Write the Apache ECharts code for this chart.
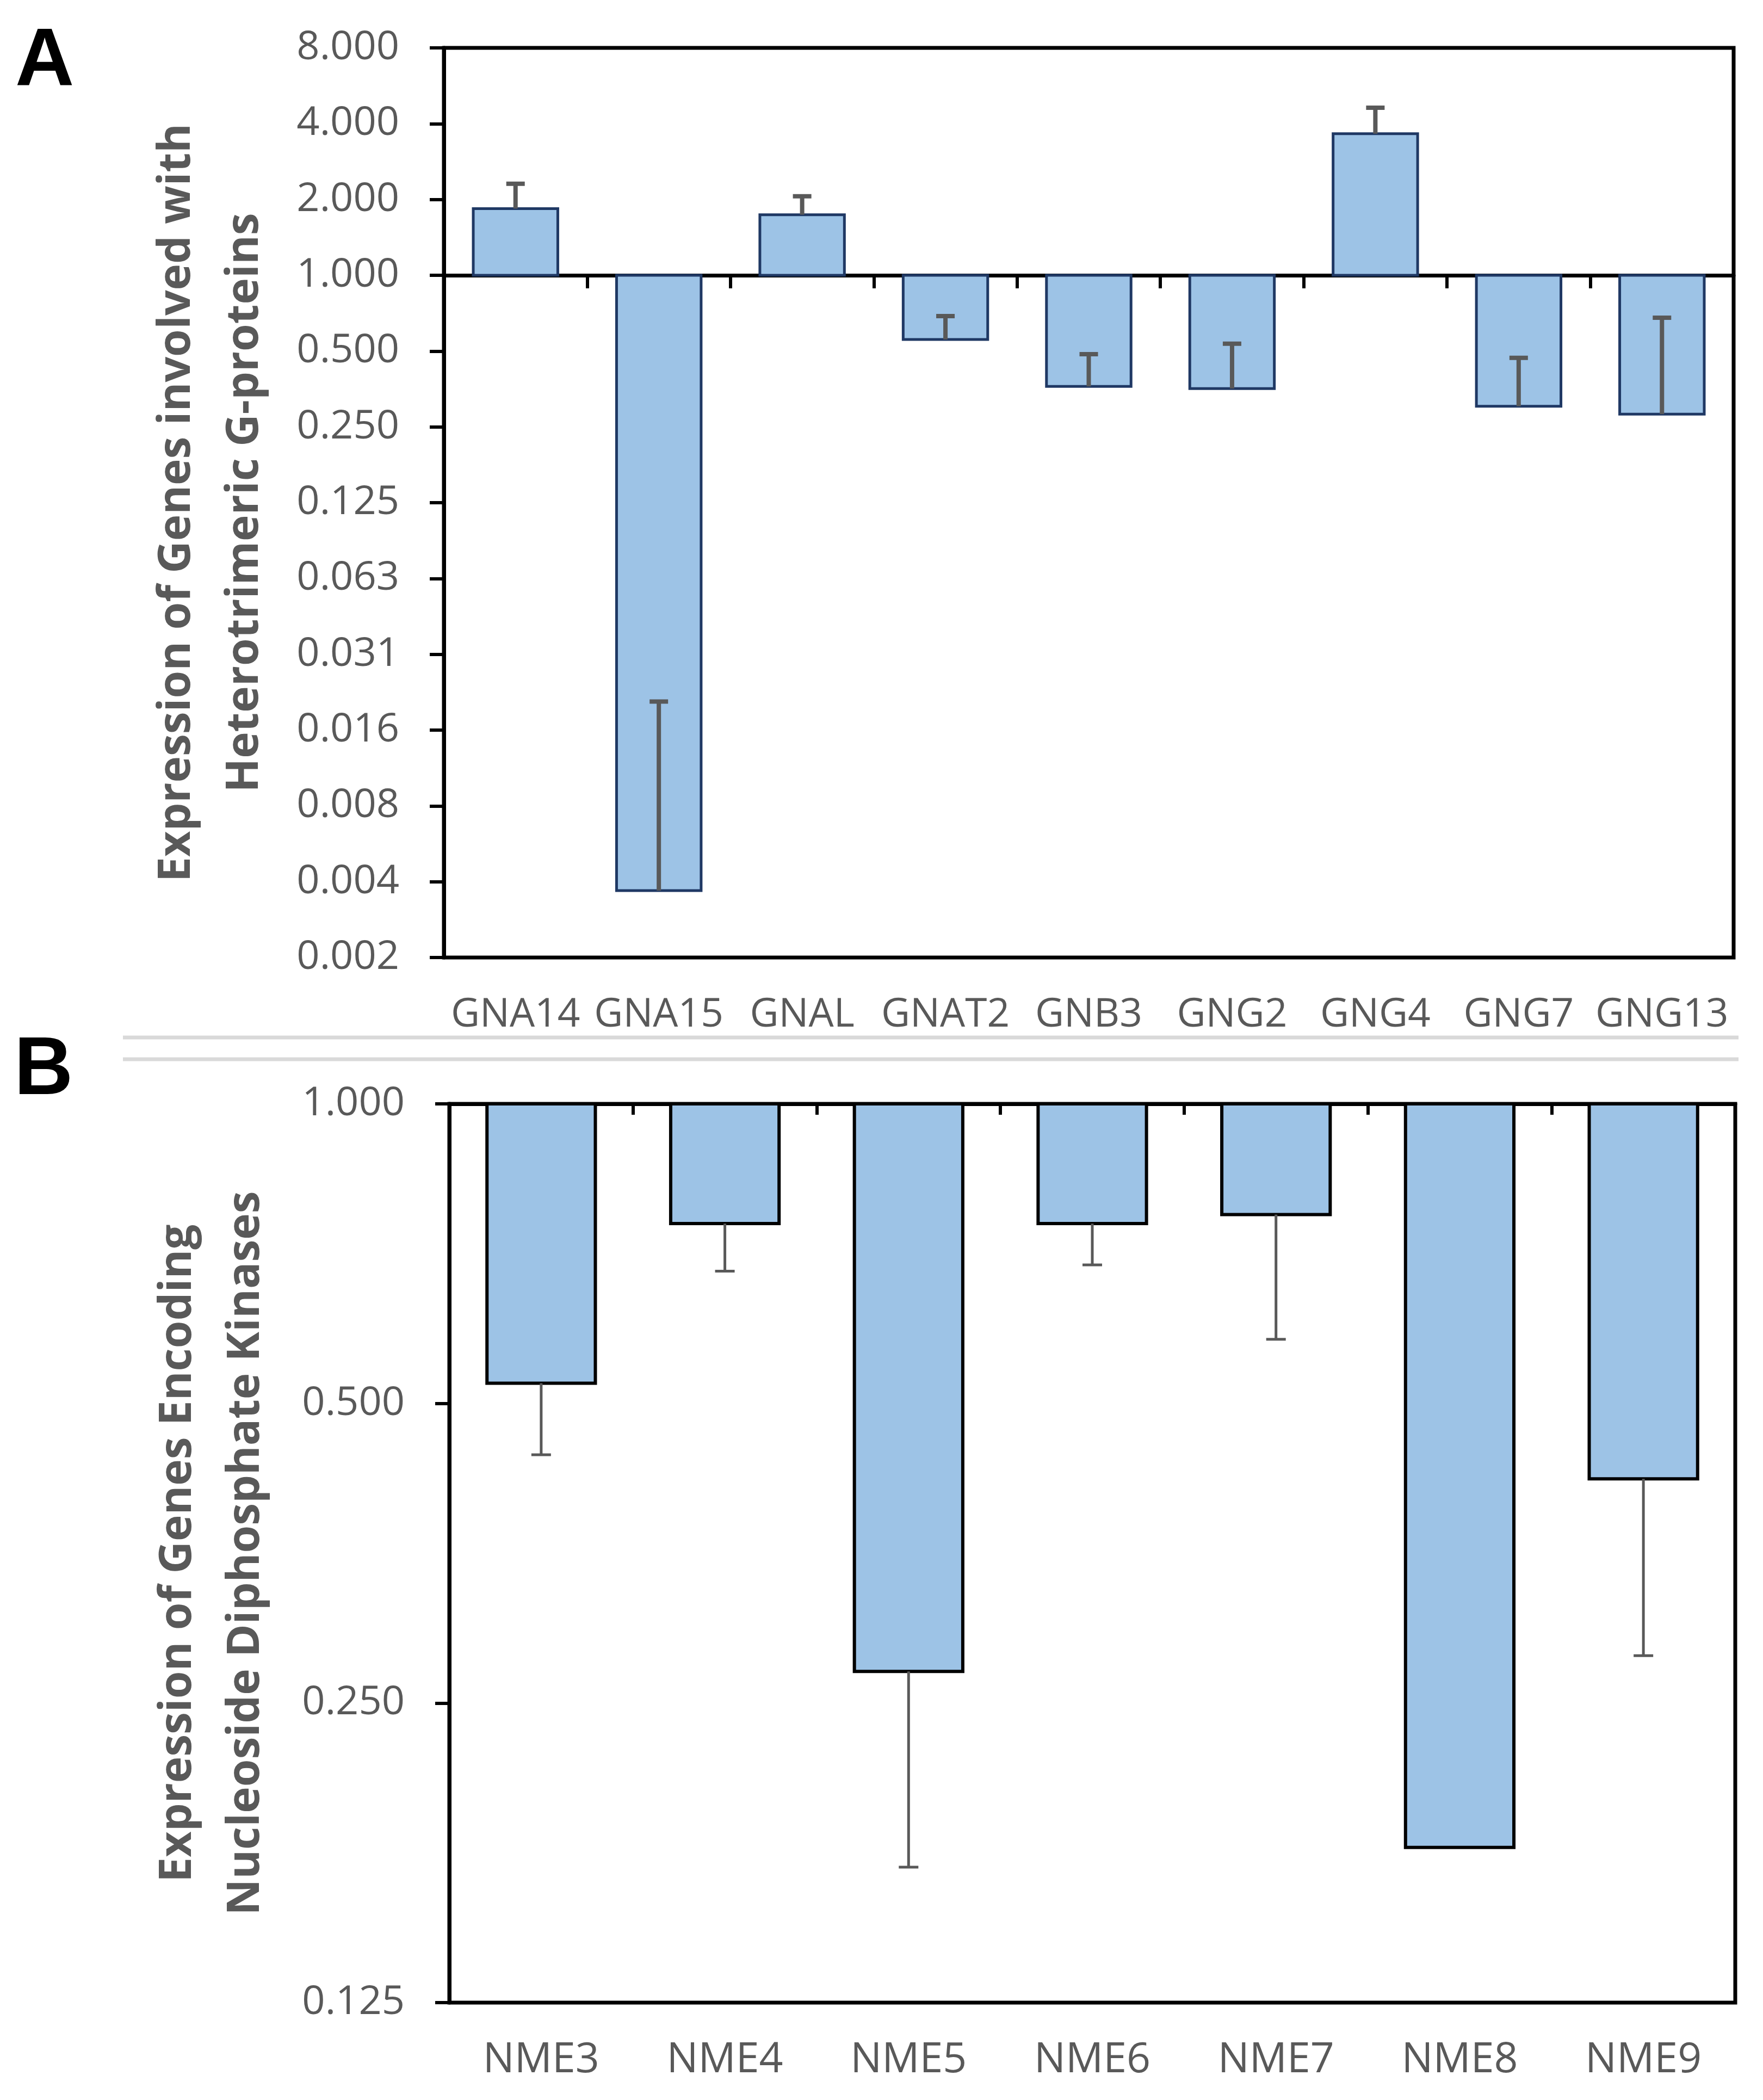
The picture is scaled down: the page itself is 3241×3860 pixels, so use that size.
<!DOCTYPE html>
<html>
<head>
<meta charset="utf-8">
<title>G-protein and NDP kinase gene expression</title>
<script src="https://cdn.jsdelivr.net/npm/echarts@6/dist/echarts.min.js"></script>
<style>
  html, body { margin: 0; padding: 0; background: #fff; }
  #chart { width: 3241px; height: 3860px; }
</style>
</head>
<body>
<div id="chart"></div>
<script>
// panel A: genes involved with heterotrimeric G-proteins
const genesA = ['GNA14', 'GNA15', 'GNAL', 'GNAT2', 'GNB3', 'GNG2', 'GNG4', 'GNG7', 'GNG13'];
const exprA = [1.84, 0.0036, 1.74, 0.556, 0.362, 0.355, 3.65, 0.302, 0.281];
const errTopA = [2.31, 0.0203, 2.06, 0.689, 0.486, 0.535, 4.63, 0.47, 0.678];

// panel B: genes encoding nucleoside diphosphate kinases
const genesB = ['NME3', 'NME4', 'NME5', 'NME6', 'NME7', 'NME8', 'NME9'];
const exprB = [0.524, 0.758, 0.269, 0.758, 0.774, 0.179, 0.420];
const errLowB = [0.444, 0.679, 0.171, 0.689, 0.58, null, 0.279];

// axis ranges (log2)
const rangeA = [0.001953125, 8];
const rangeB = [0.125, 1];

const FONT = '"Open Sans", "Noto Sans", sans-serif';
const GREY = '#595959';
const FILL = '#9dc3e6';

let chart = echarts.init(document.getElementById('chart'), null, { renderer: 'canvas' });

function barItem(stroke, lw) {
  return function (params, api) {
    let i = api.value(0);
    let base = api.coord([i, 1]);
    let end = api.coord([i, api.value(1)]);
    let w = api.size([1, 1], [i, 1])[0] * 0.59;
    return {
      type: 'rect',
      shape: { x: base[0] - w / 2, y: Math.min(base[1], end[1]), width: w, height: Math.abs(end[1] - base[1]) },
      style: { fill: FILL, stroke: stroke, lineWidth: lw }
    };
  };
}

function errItem(lw, capW) {
  return function (params, api) {
    let i = api.value(0);
    let a = api.coord([i, api.value(1)]);
    let b = api.coord([i, api.value(2)]);
    return {
      type: 'group',
      children: [
        { type: 'line', shape: { x1: a[0], y1: a[1], x2: b[0], y2: b[1] }, style: { stroke: GREY, lineWidth: lw } },
        { type: 'line', shape: { x1: b[0] - capW / 2, y1: b[1], x2: b[0] + capW / 2, y2: b[1] }, style: { stroke: GREY, lineWidth: lw } }
      ]
    };
  };
}

function labelStyle(size) {
  return { color: GREY, fontSize: size, fontFamily: FONT };
}

function catAxis(grid, data, margin, size) {
  return {
    type: 'category', gridIndex: grid, data: data, position: 'bottom',
    axisLine: { show: false }, axisTick: { show: false },
    axisLabel: Object.assign({ margin: margin, interval: 0 }, labelStyle(size))
  };
}

function baseAxis(grid, data, offset, tickLen) {
  return {
    type: 'category', gridIndex: grid, data: data, position: 'top', offset: offset,
    axisLine: { show: true, lineStyle: { color: '#000', width: 7 } },
    axisTick: { show: true, inside: true, length: tickLen, lineStyle: { color: '#000', width: 6 } },
    axisLabel: { show: false }
  };
}

function logAxis(grid, range, name, nameSize, gap, size) {
  return {
    type: 'log', logBase: 2, gridIndex: grid, min: range[0], max: range[1], interval: 1,
    axisLine: { show: true, lineStyle: { color: '#000', width: 7 } },
    axisTick: { show: true, length: 26, lineStyle: { color: '#000', width: 6 } },
    splitLine: { show: false },
    axisLabel: Object.assign({ margin: 82, formatter: v => v.toFixed(3) }, labelStyle(size)),
    name: name, nameLocation: 'middle', nameGap: gap, nameRotate: 90,
    nameTextStyle: { color: GREY, fontSize: nameSize, fontWeight: 'bold', fontFamily: FONT, lineHeight: 125 }
  };
}

chart.setOption({
  animation: false,
  backgroundColor: '#fff',
  grid: [
    { left: 816, top: 88, width: 2371, height: 1672, show: true, borderColor: '#000', borderWidth: 7 },
    { left: 826, top: 2029, width: 2364, height: 1652, show: true, borderColor: '#000', borderWidth: 7 }
  ],
  xAxis: [
    catAxis(0, genesA, 70, 73),
    baseAxis(0, genesA, -1672 * 3 / 12, 24),
    catAxis(1, genesB, 68, 77),
    baseAxis(1, genesB, 0, 20)
  ],
  yAxis: [
    logAxis(0, rangeA, 'Expression of Genes involved with\nHeterotrimeric G-proteins', 82, 303, 74),
    logAxis(1, rangeB, 'Expression of Genes Encoding\nNucleoside Diphosphate Kinases', 82, 311, 74)
  ],
  graphic: [
    { type: 'text', left: 28, top: 40, style: { text: 'A', font: 'bold 150px "Liberation Sans", Arial, sans-serif', fill: '#000' } },
    { type: 'text', left: 26, top: 1895, style: { text: 'B', font: 'bold 150px "Liberation Sans", Arial, sans-serif', fill: '#000' } },
    { type: 'line', shape: { x1: 226, y1: 1907, x2: 3196, y2: 1907 }, style: { stroke: '#d9d9d9', lineWidth: 7 } },
    { type: 'line', shape: { x1: 226, y1: 1947, x2: 3196, y2: 1947 }, style: { stroke: '#d9d9d9', lineWidth: 7 } }
  ],
  series: [
    {
      type: 'custom', xAxisIndex: 0, yAxisIndex: 0, renderItem: barItem('#1f3864', 5),
      encode: { x: 0, y: 1 }, data: exprA.map((v, i) => [i, v])
    },
    {
      type: 'custom', xAxisIndex: 0, yAxisIndex: 0, renderItem: errItem(8, 34), z: 3,
      encode: { x: 0, y: [1, 2] }, data: exprA.map((v, i) => [i, v, errTopA[i]])
    },
    {
      type: 'custom', xAxisIndex: 2, yAxisIndex: 1, renderItem: barItem('#000', 6),
      encode: { x: 0, y: 1 }, data: exprB.map((v, i) => [i, v])
    },
    {
      type: 'custom', xAxisIndex: 2, yAxisIndex: 1, renderItem: errItem(5, 36), z: 3,
      encode: { x: 0, y: [1, 2] },
      data: exprB.map((v, i) => [i, v, errLowB[i]]).filter(d => d[2] != null)
    }
  ]
});
</script>
</body>
</html>
